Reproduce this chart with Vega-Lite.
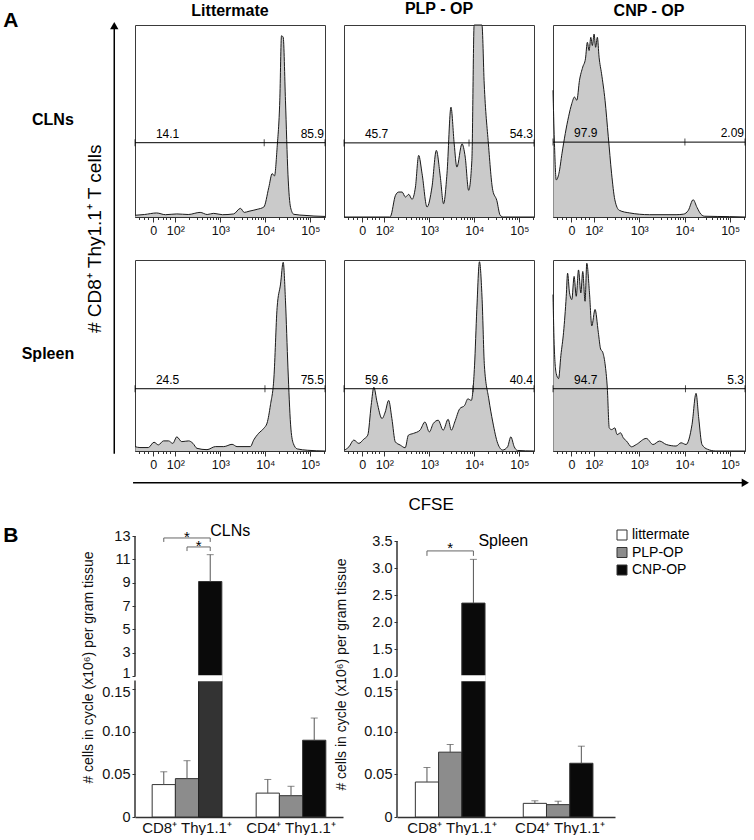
{
  "$schema": "https://vega.github.io/schema/vega-lite/v6.json",
  "background": "white",
  "padding": {"left": 0, "top": 0, "right": 0, "bottom": 0},
  "config": {
    "view": {"stroke": "#3a3a3a", "strokeWidth": 1},
    "font": "Liberation Sans",
    "axis": {"domainColor": "#333", "tickColor": "#333", "labelColor": "#111", "grid": false, "labelFont": "Liberation Sans", "titleFont": "Liberation Sans"},
    "text": {"font": "Liberation Sans", "color": "black"}
  },
  "datasets": {
    "hist": [
      {"tissue":"CLNs","mouse":"Littermate","cfse":0,"count":0.9},{"tissue":"CLNs","mouse":"Littermate","cfse":5,"count":1.3},{"tissue":"CLNs","mouse":"Littermate","cfse":11.4,"count":2.1},{"tissue":"CLNs","mouse":"Littermate","cfse":16,"count":1.2},{"tissue":"CLNs","mouse":"Littermate","cfse":22,"count":1.6},{"tissue":"CLNs","mouse":"Littermate","cfse":28,"count":1.3},{"tissue":"CLNs","mouse":"Littermate","cfse":34.3,"count":2.4},{"tissue":"CLNs","mouse":"Littermate","cfse":38,"count":1.3},{"tissue":"CLNs","mouse":"Littermate","cfse":41.4,"count":1.9},{"tissue":"CLNs","mouse":"Littermate","cfse":46,"count":1.2},{"tissue":"CLNs","mouse":"Littermate","cfse":51.9,"count":1.6},{"tissue":"CLNs","mouse":"Littermate","cfse":55.5,"count":4.5},{"tissue":"CLNs","mouse":"Littermate","cfse":57.5,"count":2.4},{"tissue":"CLNs","mouse":"Littermate","cfse":60,"count":3},{"tissue":"CLNs","mouse":"Littermate","cfse":64.3,"count":4},{"tissue":"CLNs","mouse":"Littermate","cfse":67.8,"count":5.2},{"tissue":"CLNs","mouse":"Littermate","cfse":70.4,"count":15.3},{"tissue":"CLNs","mouse":"Littermate","cfse":72.2,"count":22.6},{"tissue":"CLNs","mouse":"Littermate","cfse":73.4,"count":21.4},{"tissue":"CLNs","mouse":"Littermate","cfse":74.8,"count":36.2},{"tissue":"CLNs","mouse":"Littermate","cfse":76.2,"count":60.5},{"tissue":"CLNs","mouse":"Littermate","cfse":77.1,"count":94.4},{"tissue":"CLNs","mouse":"Littermate","cfse":78,"count":93.6},{"tissue":"CLNs","mouse":"Littermate","cfse":79.2,"count":60.5},{"tissue":"CLNs","mouse":"Littermate","cfse":80.5,"count":22.3},{"tissue":"CLNs","mouse":"Littermate","cfse":81.9,"count":4.9},{"tissue":"CLNs","mouse":"Littermate","cfse":83.6,"count":1.4},{"tissue":"CLNs","mouse":"Littermate","cfse":90,"count":0.8},{"tissue":"CLNs","mouse":"Littermate","cfse":94.2,"count":0.5},{"tissue":"CLNs","mouse":"Littermate","cfse":100,"count":0.3},
      {"tissue":"CLNs","mouse":"PLP - OP","cfse":0,"count":0},{"tissue":"CLNs","mouse":"PLP - OP","cfse":24,"count":0},{"tissue":"CLNs","mouse":"PLP - OP","cfse":24.5,"count":0.3},{"tissue":"CLNs","mouse":"PLP - OP","cfse":27.1,"count":11.3},{"tissue":"CLNs","mouse":"PLP - OP","cfse":28.8,"count":13},{"tissue":"CLNs","mouse":"PLP - OP","cfse":30.6,"count":13},{"tissue":"CLNs","mouse":"PLP - OP","cfse":32.3,"count":10.4},{"tissue":"CLNs","mouse":"PLP - OP","cfse":34.1,"count":11.8},{"tissue":"CLNs","mouse":"PLP - OP","cfse":35.8,"count":9.2},{"tissue":"CLNs","mouse":"PLP - OP","cfse":37.6,"count":15.6},{"tissue":"CLNs","mouse":"PLP - OP","cfse":39.3,"count":32.1},{"tissue":"CLNs","mouse":"PLP - OP","cfse":41.1,"count":22.5},{"tissue":"CLNs","mouse":"PLP - OP","cfse":43.7,"count":5.2},{"tissue":"CLNs","mouse":"PLP - OP","cfse":46.3,"count":15.6},{"tissue":"CLNs","mouse":"PLP - OP","cfse":48.6,"count":34.7},{"tissue":"CLNs","mouse":"PLP - OP","cfse":50.7,"count":20.8},{"tissue":"CLNs","mouse":"PLP - OP","cfse":52.4,"count":6.9},{"tissue":"CLNs","mouse":"PLP - OP","cfse":54.2,"count":22.5},{"tissue":"CLNs","mouse":"PLP - OP","cfse":56.3,"count":57.2},{"tissue":"CLNs","mouse":"PLP - OP","cfse":58,"count":38.1},{"tissue":"CLNs","mouse":"PLP - OP","cfse":59.4,"count":26},{"tissue":"CLNs","mouse":"PLP - OP","cfse":62.1,"count":38.1},{"tissue":"CLNs","mouse":"PLP - OP","cfse":63.8,"count":31.2},{"tissue":"CLNs","mouse":"PLP - OP","cfse":65.6,"count":13.9},{"tissue":"CLNs","mouse":"PLP - OP","cfse":67.3,"count":29.5},{"tissue":"CLNs","mouse":"PLP - OP","cfse":68.5,"count":100},{"tissue":"CLNs","mouse":"PLP - OP","cfse":72.6,"count":100},{"tissue":"CLNs","mouse":"PLP - OP","cfse":73.8,"count":69.3},{"tissue":"CLNs","mouse":"PLP - OP","cfse":76,"count":38.1},{"tissue":"CLNs","mouse":"PLP - OP","cfse":78.3,"count":13.9},{"tissue":"CLNs","mouse":"PLP - OP","cfse":80.4,"count":8.7},{"tissue":"CLNs","mouse":"PLP - OP","cfse":82.2,"count":0.9},{"tissue":"CLNs","mouse":"PLP - OP","cfse":83.9,"count":0},{"tissue":"CLNs","mouse":"PLP - OP","cfse":100,"count":0},
      {"tissue":"CLNs","mouse":"CNP - OP","cfse":0,"count":66},{"tissue":"CLNs","mouse":"CNP - OP","cfse":0.7,"count":40.1},{"tissue":"CLNs","mouse":"CNP - OP","cfse":1.7,"count":19.3},{"tissue":"CLNs","mouse":"CNP - OP","cfse":3.1,"count":22.8},{"tissue":"CLNs","mouse":"CNP - OP","cfse":4.7,"count":33.2},{"tissue":"CLNs","mouse":"CNP - OP","cfse":6.4,"count":43.5},{"tissue":"CLNs","mouse":"CNP - OP","cfse":8.1,"count":52.2},{"tissue":"CLNs","mouse":"CNP - OP","cfse":9.8,"count":59.1},{"tissue":"CLNs","mouse":"CNP - OP","cfse":11.2,"count":62.5},{"tissue":"CLNs","mouse":"CNP - OP","cfse":12.4,"count":60.8},{"tissue":"CLNs","mouse":"CNP - OP","cfse":13.8,"count":71.2},{"tissue":"CLNs","mouse":"CNP - OP","cfse":15.5,"count":78.1},{"tissue":"CLNs","mouse":"CNP - OP","cfse":16.9,"count":82.4},{"tissue":"CLNs","mouse":"CNP - OP","cfse":17.9,"count":91},{"tissue":"CLNs","mouse":"CNP - OP","cfse":18.8,"count":86.7},{"tissue":"CLNs","mouse":"CNP - OP","cfse":19.7,"count":93.6},{"tissue":"CLNs","mouse":"CNP - OP","cfse":20.5,"count":89.3},{"tissue":"CLNs","mouse":"CNP - OP","cfse":21.4,"count":95.3},{"tissue":"CLNs","mouse":"CNP - OP","cfse":22.2,"count":88.4},{"tissue":"CLNs","mouse":"CNP - OP","cfse":23.1,"count":93.6},{"tissue":"CLNs","mouse":"CNP - OP","cfse":24,"count":83.2},{"tissue":"CLNs","mouse":"CNP - OP","cfse":25.3,"count":74.6},{"tissue":"CLNs","mouse":"CNP - OP","cfse":27.1,"count":60.8},{"tissue":"CLNs","mouse":"CNP - OP","cfse":28.8,"count":41.8},{"tissue":"CLNs","mouse":"CNP - OP","cfse":30.5,"count":22.8},{"tissue":"CLNs","mouse":"CNP - OP","cfse":32.2,"count":9},{"tissue":"CLNs","mouse":"CNP - OP","cfse":34.5,"count":3.5},{"tissue":"CLNs","mouse":"CNP - OP","cfse":40,"count":2.1},{"tissue":"CLNs","mouse":"CNP - OP","cfse":50.3,"count":1.2},{"tissue":"CLNs","mouse":"CNP - OP","cfse":64.1,"count":1.2},{"tissue":"CLNs","mouse":"CNP - OP","cfse":68,"count":1.5},{"tissue":"CLNs","mouse":"CNP - OP","cfse":70.5,"count":3.5},{"tissue":"CLNs","mouse":"CNP - OP","cfse":73,"count":9},{"tissue":"CLNs","mouse":"CNP - OP","cfse":75,"count":5},{"tissue":"CLNs","mouse":"CNP - OP","cfse":77,"count":1.5},{"tissue":"CLNs","mouse":"CNP - OP","cfse":79,"count":0.4},{"tissue":"CLNs","mouse":"CNP - OP","cfse":92,"count":0.2},{"tissue":"CLNs","mouse":"CNP - OP","cfse":100,"count":0},
      {"tissue":"Spleen","mouse":"Littermate","cfse":0,"count":2.3},{"tissue":"Spleen","mouse":"Littermate","cfse":2.6,"count":1.8},{"tissue":"Spleen","mouse":"Littermate","cfse":7,"count":1.8},{"tissue":"Spleen","mouse":"Littermate","cfse":10,"count":4.6},{"tissue":"Spleen","mouse":"Littermate","cfse":12.3,"count":3.2},{"tissue":"Spleen","mouse":"Littermate","cfse":15,"count":5.3},{"tissue":"Spleen","mouse":"Littermate","cfse":17.6,"count":5.3},{"tissue":"Spleen","mouse":"Littermate","cfse":19.9,"count":4},{"tissue":"Spleen","mouse":"Littermate","cfse":22,"count":7.4},{"tissue":"Spleen","mouse":"Littermate","cfse":24.6,"count":4.9},{"tissue":"Spleen","mouse":"Littermate","cfse":28.2,"count":5.3},{"tissue":"Spleen","mouse":"Littermate","cfse":30.5,"count":4},{"tissue":"Spleen","mouse":"Littermate","cfse":32.6,"count":1.4},{"tissue":"Spleen","mouse":"Littermate","cfse":37.9,"count":0.7},{"tissue":"Spleen","mouse":"Littermate","cfse":42.3,"count":2.3},{"tissue":"Spleen","mouse":"Littermate","cfse":46.7,"count":2.3},{"tissue":"Spleen","mouse":"Littermate","cfse":51.1,"count":3.5},{"tissue":"Spleen","mouse":"Littermate","cfse":53.7,"count":2.3},{"tissue":"Spleen","mouse":"Littermate","cfse":60.7,"count":2.3},{"tissue":"Spleen","mouse":"Littermate","cfse":62.5,"count":5.8},{"tissue":"Spleen","mouse":"Littermate","cfse":65.1,"count":9.3},{"tissue":"Spleen","mouse":"Littermate","cfse":67.8,"count":11.9},{"tissue":"Spleen","mouse":"Littermate","cfse":69.5,"count":14.6},{"tissue":"Spleen","mouse":"Littermate","cfse":71.3,"count":24.2},{"tissue":"Spleen","mouse":"Littermate","cfse":73.1,"count":38.2},{"tissue":"Spleen","mouse":"Littermate","cfse":74.8,"count":75.1},{"tissue":"Spleen","mouse":"Littermate","cfse":76.6,"count":87.4},{"tissue":"Spleen","mouse":"Littermate","cfse":78,"count":98.8},{"tissue":"Spleen","mouse":"Littermate","cfse":79.2,"count":78.6},{"tissue":"Spleen","mouse":"Littermate","cfse":80.5,"count":43.5},{"tissue":"Spleen","mouse":"Littermate","cfse":81.9,"count":13.7},{"tissue":"Spleen","mouse":"Littermate","cfse":83.3,"count":4},{"tissue":"Spleen","mouse":"Littermate","cfse":85.4,"count":1.1},{"tissue":"Spleen","mouse":"Littermate","cfse":90.7,"count":0.4},{"tissue":"Spleen","mouse":"Littermate","cfse":100,"count":0},
      {"tissue":"Spleen","mouse":"PLP - OP","cfse":0,"count":0.3},{"tissue":"Spleen","mouse":"PLP - OP","cfse":2.6,"count":2.2},{"tissue":"Spleen","mouse":"PLP - OP","cfse":5.2,"count":5.7},{"tissue":"Spleen","mouse":"PLP - OP","cfse":7.8,"count":4},{"tissue":"Spleen","mouse":"PLP - OP","cfse":10.4,"count":6.2},{"tissue":"Spleen","mouse":"PLP - OP","cfse":12.5,"count":8.3},{"tissue":"Spleen","mouse":"PLP - OP","cfse":14.3,"count":23.9},{"tissue":"Spleen","mouse":"PLP - OP","cfse":15.7,"count":33.4},{"tissue":"Spleen","mouse":"PLP - OP","cfse":17.4,"count":25.6},{"tissue":"Spleen","mouse":"PLP - OP","cfse":20,"count":17},{"tissue":"Spleen","mouse":"PLP - OP","cfse":21.7,"count":20.4},{"tissue":"Spleen","mouse":"PLP - OP","cfse":23.5,"count":26.5},{"tissue":"Spleen","mouse":"PLP - OP","cfse":25.2,"count":17},{"tissue":"Spleen","mouse":"PLP - OP","cfse":27,"count":4.8},{"tissue":"Spleen","mouse":"PLP - OP","cfse":29.6,"count":3.1},{"tissue":"Spleen","mouse":"PLP - OP","cfse":32.2,"count":1.7},{"tissue":"Spleen","mouse":"PLP - OP","cfse":33.9,"count":8.3},{"tissue":"Spleen","mouse":"PLP - OP","cfse":36.5,"count":9.2},{"tissue":"Spleen","mouse":"PLP - OP","cfse":40,"count":10.9},{"tissue":"Spleen","mouse":"PLP - OP","cfse":42.6,"count":15.2},{"tissue":"Spleen","mouse":"PLP - OP","cfse":44.9,"count":10},{"tissue":"Spleen","mouse":"PLP - OP","cfse":47,"count":14.4},{"tissue":"Spleen","mouse":"PLP - OP","cfse":49.6,"count":16.1},{"tissue":"Spleen","mouse":"PLP - OP","cfse":52.2,"count":10.9},{"tissue":"Spleen","mouse":"PLP - OP","cfse":54.8,"count":16.6},{"tissue":"Spleen","mouse":"PLP - OP","cfse":56.5,"count":10.9},{"tissue":"Spleen","mouse":"PLP - OP","cfse":58.3,"count":15.2},{"tissue":"Spleen","mouse":"PLP - OP","cfse":60.9,"count":22.1},{"tissue":"Spleen","mouse":"PLP - OP","cfse":63.5,"count":23.9},{"tissue":"Spleen","mouse":"PLP - OP","cfse":65.2,"count":27.3},{"tissue":"Spleen","mouse":"PLP - OP","cfse":67,"count":26.5},{"tissue":"Spleen","mouse":"PLP - OP","cfse":68.7,"count":44.6},{"tissue":"Spleen","mouse":"PLP - OP","cfse":69.9,"count":74},{"tissue":"Spleen","mouse":"PLP - OP","cfse":71.3,"count":99.1},{"tissue":"Spleen","mouse":"PLP - OP","cfse":72.7,"count":79.2},{"tissue":"Spleen","mouse":"PLP - OP","cfse":73.9,"count":44.6},{"tissue":"Spleen","mouse":"PLP - OP","cfse":76.2,"count":27.3},{"tissue":"Spleen","mouse":"PLP - OP","cfse":78.3,"count":15.2},{"tissue":"Spleen","mouse":"PLP - OP","cfse":80.9,"count":4},{"tissue":"Spleen","mouse":"PLP - OP","cfse":83.5,"count":0.5},{"tissue":"Spleen","mouse":"PLP - OP","cfse":86.1,"count":2.2},{"tissue":"Spleen","mouse":"PLP - OP","cfse":87.8,"count":7.4},{"tissue":"Spleen","mouse":"PLP - OP","cfse":89.6,"count":2.2},{"tissue":"Spleen","mouse":"PLP - OP","cfse":91.3,"count":0.3},{"tissue":"Spleen","mouse":"PLP - OP","cfse":100,"count":0},
      {"tissue":"Spleen","mouse":"CNP - OP","cfse":0,"count":81.9},{"tissue":"Spleen","mouse":"CNP - OP","cfse":0.7,"count":53.4},{"tissue":"Spleen","mouse":"CNP - OP","cfse":1.7,"count":40.5},{"tissue":"Spleen","mouse":"CNP - OP","cfse":2.9,"count":37.9},{"tissue":"Spleen","mouse":"CNP - OP","cfse":4.1,"count":50},{"tissue":"Spleen","mouse":"CNP - OP","cfse":5.5,"count":62.1},{"tissue":"Spleen","mouse":"CNP - OP","cfse":6.9,"count":81},{"tissue":"Spleen","mouse":"CNP - OP","cfse":7.6,"count":93.1},{"tissue":"Spleen","mouse":"CNP - OP","cfse":8.6,"count":82.8},{"tissue":"Spleen","mouse":"CNP - OP","cfse":9.8,"count":79.3},{"tissue":"Spleen","mouse":"CNP - OP","cfse":11,"count":91.4},{"tissue":"Spleen","mouse":"CNP - OP","cfse":12.1,"count":81},{"tissue":"Spleen","mouse":"CNP - OP","cfse":13.3,"count":94.8},{"tissue":"Spleen","mouse":"CNP - OP","cfse":14.5,"count":82.8},{"tissue":"Spleen","mouse":"CNP - OP","cfse":15.5,"count":94},{"tissue":"Spleen","mouse":"CNP - OP","cfse":16.7,"count":78.4},{"tissue":"Spleen","mouse":"CNP - OP","cfse":17.6,"count":98.3},{"tissue":"Spleen","mouse":"CNP - OP","cfse":19,"count":82.8},{"tissue":"Spleen","mouse":"CNP - OP","cfse":20.2,"count":65.5},{"tissue":"Spleen","mouse":"CNP - OP","cfse":21.9,"count":74.1},{"tissue":"Spleen","mouse":"CNP - OP","cfse":23.6,"count":62.1},{"tissue":"Spleen","mouse":"CNP - OP","cfse":24.8,"count":53.4},{"tissue":"Spleen","mouse":"CNP - OP","cfse":25.9,"count":51.7},{"tissue":"Spleen","mouse":"CNP - OP","cfse":27.1,"count":45.7},{"tissue":"Spleen","mouse":"CNP - OP","cfse":28.3,"count":32.8},{"tissue":"Spleen","mouse":"CNP - OP","cfse":29.3,"count":12.1},{"tissue":"Spleen","mouse":"CNP - OP","cfse":30.5,"count":11.2},{"tissue":"Spleen","mouse":"CNP - OP","cfse":32.2,"count":12.1},{"tissue":"Spleen","mouse":"CNP - OP","cfse":33.4,"count":8.6},{"tissue":"Spleen","mouse":"CNP - OP","cfse":35.2,"count":9.5},{"tissue":"Spleen","mouse":"CNP - OP","cfse":36.6,"count":6.9},{"tissue":"Spleen","mouse":"CNP - OP","cfse":38.3,"count":5.2},{"tissue":"Spleen","mouse":"CNP - OP","cfse":40.9,"count":2.2},{"tissue":"Spleen","mouse":"CNP - OP","cfse":43.4,"count":3.4},{"tissue":"Spleen","mouse":"CNP - OP","cfse":48.6,"count":6.6},{"tissue":"Spleen","mouse":"CNP - OP","cfse":52.1,"count":3.4},{"tissue":"Spleen","mouse":"CNP - OP","cfse":55.5,"count":5.2},{"tissue":"Spleen","mouse":"CNP - OP","cfse":59,"count":3.4},{"tissue":"Spleen","mouse":"CNP - OP","cfse":64.1,"count":2.6},{"tissue":"Spleen","mouse":"CNP - OP","cfse":66.7,"count":4.3},{"tissue":"Spleen","mouse":"CNP - OP","cfse":69.3,"count":3.4},{"tissue":"Spleen","mouse":"CNP - OP","cfse":72.4,"count":13.8},{"tissue":"Spleen","mouse":"CNP - OP","cfse":74.5,"count":30.2},{"tissue":"Spleen","mouse":"CNP - OP","cfse":75.9,"count":17.2},{"tissue":"Spleen","mouse":"CNP - OP","cfse":77.6,"count":3.4},{"tissue":"Spleen","mouse":"CNP - OP","cfse":80.5,"count":0.9},{"tissue":"Spleen","mouse":"CNP - OP","cfse":84.8,"count":0},{"tissue":"Spleen","mouse":"CNP - OP","cfse":100,"count":0}
    ],
    "gates": [
      {"tissue":"CLNs","mouse":"Littermate","gate":38.7,"split":68,"left":14.1,"right":85.9},
      {"tissue":"CLNs","mouse":"PLP - OP","gate":38.6,"split":65.8,"left":45.7,"right":54.3},
      {"tissue":"CLNs","mouse":"CNP - OP","gate":39,"split":68.7,"left":97.9,"right":2.09},
      {"tissue":"Spleen","mouse":"Littermate","gate":32.6,"split":68.4,"left":24.5,"right":75.5},
      {"tissue":"Spleen","mouse":"PLP - OP","gate":32.6,"split":67.9,"left":59.6,"right":40.4},
      {"tissue":"Spleen","mouse":"CNP - OP","gate":32.6,"split":69,"left":94.7,"right":5.3}
    ],
    "bars": [
      {"tissue":"CLNs","cell":"CD8⁺ Thy1.1⁺","genotype":"littermate","mean":0.038,"upper":0.053},
      {"tissue":"CLNs","cell":"CD8⁺ Thy1.1⁺","genotype":"PLP-OP","mean":0.045,"upper":0.066},
      {"tissue":"CLNs","cell":"CD8⁺ Thy1.1⁺","genotype":"CNP-OP","mean":9.1,"upper":11.4},
      {"tissue":"CLNs","cell":"CD4⁺ Thy1.1⁺","genotype":"littermate","mean":0.028,"upper":0.044},
      {"tissue":"CLNs","cell":"CD4⁺ Thy1.1⁺","genotype":"PLP-OP","mean":0.025,"upper":0.036},
      {"tissue":"CLNs","cell":"CD4⁺ Thy1.1⁺","genotype":"CNP-OP","mean":0.09,"upper":0.116},
      {"tissue":"Spleen","cell":"CD8⁺ Thy1.1⁺","genotype":"littermate","mean":0.041,"upper":0.058},
      {"tissue":"Spleen","cell":"CD8⁺ Thy1.1⁺","genotype":"PLP-OP","mean":0.076,"upper":0.085},
      {"tissue":"Spleen","cell":"CD8⁺ Thy1.1⁺","genotype":"CNP-OP","mean":2.35,"upper":3.16},
      {"tissue":"Spleen","cell":"CD4⁺ Thy1.1⁺","genotype":"littermate","mean":0.016,"upper":0.019},
      {"tissue":"Spleen","cell":"CD4⁺ Thy1.1⁺","genotype":"PLP-OP","mean":0.0145,"upper":0.0185},
      {"tissue":"Spleen","cell":"CD4⁺ Thy1.1⁺","genotype":"CNP-OP","mean":0.063,"upper":0.083}
    ],
    "brackets": [
      {"tissue":"CLNs","bracket":1,"o":1,"cell":"CD8⁺ Thy1.1⁺","genotype":"littermate","y":12.49},
      {"tissue":"CLNs","bracket":1,"o":2,"cell":"CD8⁺ Thy1.1⁺","genotype":"littermate","y":12.83},
      {"tissue":"CLNs","bracket":1,"o":3,"cell":"CD8⁺ Thy1.1⁺","genotype":"CNP-OP","y":12.83},
      {"tissue":"CLNs","bracket":1,"o":4,"cell":"CD8⁺ Thy1.1⁺","genotype":"CNP-OP","y":12.49},
      {"tissue":"CLNs","bracket":2,"o":1,"cell":"CD8⁺ Thy1.1⁺","genotype":"PLP-OP","y":11.71},
      {"tissue":"CLNs","bracket":2,"o":2,"cell":"CD8⁺ Thy1.1⁺","genotype":"PLP-OP","y":12.06},
      {"tissue":"CLNs","bracket":2,"o":3,"cell":"CD8⁺ Thy1.1⁺","genotype":"CNP-OP","y":12.06},
      {"tissue":"CLNs","bracket":2,"o":4,"cell":"CD8⁺ Thy1.1⁺","genotype":"CNP-OP","y":11.71},
      {"tissue":"Spleen","bracket":3,"o":1,"cell":"CD8⁺ Thy1.1⁺","genotype":"littermate","y":3.224},
      {"tissue":"Spleen","bracket":3,"o":2,"cell":"CD8⁺ Thy1.1⁺","genotype":"littermate","y":3.316},
      {"tissue":"Spleen","bracket":3,"o":3,"cell":"CD8⁺ Thy1.1⁺","genotype":"CNP-OP","y":3.316},
      {"tissue":"Spleen","bracket":3,"o":4,"cell":"CD8⁺ Thy1.1⁺","genotype":"CNP-OP","y":3.224}
    ],
    "stars": [
      {"tissue":"CLNs","bracket":1,"cell":"CD8⁺ Thy1.1⁺","genotype":"PLP-OP","y":12.49,"label":"*"},
      {"tissue":"CLNs","bracket":2,"cell":"CD8⁺ Thy1.1⁺","genotype":"PLP-OP","y":11.74,"label":"*"},
      {"tissue":"Spleen","bracket":3,"cell":"CD8⁺ Thy1.1⁺","genotype":"PLP-OP","y":3.28,"label":"*"}
    ]
  },
  "columns": 4,
  "align": "none",
  "bounds": "flush",
  "spacing": {"row": 43, "column": 19},
  "resolve": {"scale": {"color": "independent"}, "legend": {"color": "independent"}},
  "concat": [
    {
      "width": 116, "height": 192, "view": {"stroke": null},
      "data": {"values": [{"panel": "A", "tissue": "CLNs"}]},
      "layer": [
        {"mark": {"type": "text", "align": "left", "baseline": "alphabetic", "fontSize": 21, "fontWeight": "bold"},
         "encoding": {"x": {"datum": 0.028, "type": "quantitative", "scale": {"domain": [0, 1], "nice": false, "zero": false}, "axis": null},
                      "y": {"datum": 0.991, "type": "quantitative", "scale": {"domain": [0, 1], "nice": false, "zero": false}, "axis": null},
                      "text": {"field": "panel", "type": "nominal"}}},
        {"mark": {"type": "text", "align": "left", "baseline": "alphabetic", "fontSize": 16, "fontWeight": "bold"},
         "encoding": {"x": {"datum": 0.276, "type": "quantitative", "axis": null}, "y": {"datum": 0.481, "type": "quantitative", "axis": null}, "text": {"field": "tissue", "type": "nominal"}}}
      ]
    },
    {
      "width": 190, "height": 192,
      "title": {"text": "Littermate", "fontSize": 16, "fontWeight": "bold", "font": "Liberation Sans", "offset": 6, "color": "black"},
      "resolve": {"axis": {"x": "independent"}},
      "layer": [
        {"data": {"name": "hist"}, "transform": [{"filter": "datum.tissue == 'CLNs' && datum.mouse == 'Littermate'"}],
         "mark": {"type": "area", "interpolate": "monotone", "fill": "#b3b3b3", "line": {"stroke": "#1a1a1a", "strokeWidth": 1}},
         "encoding": {
           "x": {"field": "cfse", "type": "quantitative", "scale": {"domain": [0, 100], "nice": false, "zero": false}, "axis": {"orient": "bottom", "title": null, "values": [9.6, 21.2, 44.9, 68.6, 92.3], "labelExpr": "datum.value == 9.6 ? '0' : datum.value == 21.2 ? '10²' : datum.value == 44.9 ? '10³' : datum.value == 68.6 ? '10⁴' : '10⁵'", "labelFontSize": 12.5, "labelPadding": 2, "labelFlush": false, "tickSize": 5}},
           "y": {"field": "count", "type": "quantitative", "scale": {"domain": [0, 100], "nice": false, "zero": false}, "axis": {"title": null, "labels": false, "values": [0, 6, 12, 18, 24, 30, 36, 42, 48, 54, 60, 66, 72, 78, 84, 90, 96], "tickSize": {"condition": {"test": "datum.value % 30 == 0", "value": 5}, "value": 2.5}}}
         }},
        {"data": {"name": "gates"}, "transform": [{"filter": "datum.tissue == 'CLNs' && datum.mouse == 'Littermate'"}], "mark": {"type": "rule", "color": "black", "strokeWidth": 1}, "encoding": {"x": {"datum": 0, "type": "quantitative", "axis": {"orient": "bottom", "title": null, "labels": false, "domain": false, "tickSize": 2.5, "values": [2, 4.5, 7, 12.2, 14.5, 16.5, 18.5, 28.3, 32.5, 35.5, 37.8, 39.6, 41.2, 42.6, 43.8, 52, 56.2, 59.2, 61.5, 63.3, 64.9, 66.3, 67.5, 75.7, 79.9, 82.9, 85.2, 87, 88.6, 90, 91.2, 99.4]}}, "x2": {"datum": 100}, "y": {"field": "gate", "type": "quantitative", "axis": null}}},
        {"data": {"name": "gates"}, "transform": [{"filter": "datum.tissue == 'CLNs' && datum.mouse == 'Littermate'"}], "mark": {"type": "tick", "orient": "vertical", "size": 7, "thickness": 1, "color": "black"}, "encoding": {"x": {"datum": 0, "type": "quantitative", "axis": null}, "y": {"field": "gate", "type": "quantitative", "axis": null}}},
        {"data": {"name": "gates"}, "transform": [{"filter": "datum.tissue == 'CLNs' && datum.mouse == 'Littermate'"}], "mark": {"type": "tick", "orient": "vertical", "size": 7, "thickness": 1, "color": "black"}, "encoding": {"x": {"field": "split", "type": "quantitative", "axis": null}, "y": {"field": "gate", "type": "quantitative", "axis": null}}},
        {"data": {"name": "gates"}, "transform": [{"filter": "datum.tissue == 'CLNs' && datum.mouse == 'Littermate'"}], "mark": {"type": "tick", "orient": "vertical", "size": 7, "thickness": 1, "color": "black"}, "encoding": {"x": {"datum": 100, "type": "quantitative", "axis": null}, "y": {"field": "gate", "type": "quantitative", "axis": null}}},
        {"data": {"name": "gates"}, "transform": [{"filter": "datum.tissue == 'CLNs' && datum.mouse == 'Littermate'"}], "mark": {"type": "text", "align": "left", "baseline": "alphabetic", "dy": -5, "fontSize": 12}, "encoding": {"x": {"datum": 11, "type": "quantitative", "axis": null}, "y": {"field": "gate", "type": "quantitative", "axis": null}, "text": {"field": "left", "type": "nominal"}}},
        {"data": {"name": "gates"}, "transform": [{"filter": "datum.tissue == 'CLNs' && datum.mouse == 'Littermate'"}], "mark": {"type": "text", "align": "right", "baseline": "alphabetic", "dy": -5, "dx": -1, "fontSize": 12}, "encoding": {"x": {"datum": 100, "type": "quantitative", "axis": null}, "y": {"field": "gate", "type": "quantitative", "axis": null}, "text": {"field": "right", "type": "nominal"}}}
      ]
    },
    {
      "width": 190, "height": 192,
      "title": {"text": "PLP - OP", "fontSize": 16, "fontWeight": "bold", "font": "Liberation Sans", "offset": 6, "color": "black"},
      "resolve": {"axis": {"x": "independent"}},
      "layer": [
        {"data": {"name": "hist"}, "transform": [{"filter": "datum.tissue == 'CLNs' && datum.mouse == 'PLP - OP'"}],
         "mark": {"type": "area", "interpolate": "monotone", "fill": "#b3b3b3", "line": {"stroke": "#1a1a1a", "strokeWidth": 1}},
         "encoding": {
           "x": {"field": "cfse", "type": "quantitative", "scale": {"domain": [0, 100], "nice": false, "zero": false}, "axis": {"orient": "bottom", "title": null, "values": [9.6, 21.2, 44.9, 68.6, 92.3], "labelExpr": "datum.value == 9.6 ? '0' : datum.value == 21.2 ? '10²' : datum.value == 44.9 ? '10³' : datum.value == 68.6 ? '10⁴' : '10⁵'", "labelFontSize": 12.5, "labelPadding": 2, "labelFlush": false, "tickSize": 5}},
           "y": {"field": "count", "type": "quantitative", "scale": {"domain": [0, 100], "nice": false, "zero": false}, "axis": {"title": null, "labels": false, "values": [0, 6, 12, 18, 24, 30, 36, 42, 48, 54, 60, 66, 72, 78, 84, 90, 96], "tickSize": {"condition": {"test": "datum.value % 30 == 0", "value": 5}, "value": 2.5}}}
         }},
        {"data": {"name": "gates"}, "transform": [{"filter": "datum.tissue == 'CLNs' && datum.mouse == 'PLP - OP'"}], "mark": {"type": "rule", "color": "black", "strokeWidth": 1}, "encoding": {"x": {"datum": 0, "type": "quantitative", "axis": {"orient": "bottom", "title": null, "labels": false, "domain": false, "tickSize": 2.5, "values": [2, 4.5, 7, 12.2, 14.5, 16.5, 18.5, 28.3, 32.5, 35.5, 37.8, 39.6, 41.2, 42.6, 43.8, 52, 56.2, 59.2, 61.5, 63.3, 64.9, 66.3, 67.5, 75.7, 79.9, 82.9, 85.2, 87, 88.6, 90, 91.2, 99.4]}}, "x2": {"datum": 100}, "y": {"field": "gate", "type": "quantitative", "axis": null}}},
        {"data": {"name": "gates"}, "transform": [{"filter": "datum.tissue == 'CLNs' && datum.mouse == 'PLP - OP'"}], "mark": {"type": "tick", "orient": "vertical", "size": 7, "thickness": 1, "color": "black"}, "encoding": {"x": {"datum": 0, "type": "quantitative", "axis": null}, "y": {"field": "gate", "type": "quantitative", "axis": null}}},
        {"data": {"name": "gates"}, "transform": [{"filter": "datum.tissue == 'CLNs' && datum.mouse == 'PLP - OP'"}], "mark": {"type": "tick", "orient": "vertical", "size": 7, "thickness": 1, "color": "black"}, "encoding": {"x": {"field": "split", "type": "quantitative", "axis": null}, "y": {"field": "gate", "type": "quantitative", "axis": null}}},
        {"data": {"name": "gates"}, "transform": [{"filter": "datum.tissue == 'CLNs' && datum.mouse == 'PLP - OP'"}], "mark": {"type": "tick", "orient": "vertical", "size": 7, "thickness": 1, "color": "black"}, "encoding": {"x": {"datum": 100, "type": "quantitative", "axis": null}, "y": {"field": "gate", "type": "quantitative", "axis": null}}},
        {"data": {"name": "gates"}, "transform": [{"filter": "datum.tissue == 'CLNs' && datum.mouse == 'PLP - OP'"}], "mark": {"type": "text", "align": "left", "baseline": "alphabetic", "dy": -5, "fontSize": 12}, "encoding": {"x": {"datum": 11, "type": "quantitative", "axis": null}, "y": {"field": "gate", "type": "quantitative", "axis": null}, "text": {"field": "left", "type": "nominal"}}},
        {"data": {"name": "gates"}, "transform": [{"filter": "datum.tissue == 'CLNs' && datum.mouse == 'PLP - OP'"}], "mark": {"type": "text", "align": "right", "baseline": "alphabetic", "dy": -5, "dx": -1, "fontSize": 12}, "encoding": {"x": {"datum": 100, "type": "quantitative", "axis": null}, "y": {"field": "gate", "type": "quantitative", "axis": null}, "text": {"field": "right", "type": "nominal"}}}
      ]
    },
    {
      "width": 192, "height": 192,
      "title": {"text": "CNP - OP", "fontSize": 16, "fontWeight": "bold", "font": "Liberation Sans", "offset": 6, "color": "black"},
      "resolve": {"axis": {"x": "independent"}},
      "layer": [
        {"data": {"name": "hist"}, "transform": [{"filter": "datum.tissue == 'CLNs' && datum.mouse == 'CNP - OP'"}],
         "mark": {"type": "area", "interpolate": "monotone", "fill": "#b3b3b3", "line": {"stroke": "#1a1a1a", "strokeWidth": 1}},
         "encoding": {
           "x": {"field": "cfse", "type": "quantitative", "scale": {"domain": [0, 100], "nice": false, "zero": false}, "axis": {"orient": "bottom", "title": null, "values": [9.6, 21.2, 44.9, 68.6, 92.3], "labelExpr": "datum.value == 9.6 ? '0' : datum.value == 21.2 ? '10²' : datum.value == 44.9 ? '10³' : datum.value == 68.6 ? '10⁴' : '10⁵'", "labelFontSize": 12.5, "labelPadding": 2, "labelFlush": false, "tickSize": 5}},
           "y": {"field": "count", "type": "quantitative", "scale": {"domain": [0, 100], "nice": false, "zero": false}, "axis": {"title": null, "labels": false, "values": [0, 6, 12, 18, 24, 30, 36, 42, 48, 54, 60, 66, 72, 78, 84, 90, 96], "tickSize": {"condition": {"test": "datum.value % 30 == 0", "value": 5}, "value": 2.5}}}
         }},
        {"data": {"name": "gates"}, "transform": [{"filter": "datum.tissue == 'CLNs' && datum.mouse == 'CNP - OP'"}], "mark": {"type": "rule", "color": "black", "strokeWidth": 1}, "encoding": {"x": {"datum": 0, "type": "quantitative", "axis": {"orient": "bottom", "title": null, "labels": false, "domain": false, "tickSize": 2.5, "values": [2, 4.5, 7, 12.2, 14.5, 16.5, 18.5, 28.3, 32.5, 35.5, 37.8, 39.6, 41.2, 42.6, 43.8, 52, 56.2, 59.2, 61.5, 63.3, 64.9, 66.3, 67.5, 75.7, 79.9, 82.9, 85.2, 87, 88.6, 90, 91.2, 99.4]}}, "x2": {"datum": 100}, "y": {"field": "gate", "type": "quantitative", "axis": null}}},
        {"data": {"name": "gates"}, "transform": [{"filter": "datum.tissue == 'CLNs' && datum.mouse == 'CNP - OP'"}], "mark": {"type": "tick", "orient": "vertical", "size": 7, "thickness": 1, "color": "black"}, "encoding": {"x": {"datum": 0, "type": "quantitative", "axis": null}, "y": {"field": "gate", "type": "quantitative", "axis": null}}},
        {"data": {"name": "gates"}, "transform": [{"filter": "datum.tissue == 'CLNs' && datum.mouse == 'CNP - OP'"}], "mark": {"type": "tick", "orient": "vertical", "size": 7, "thickness": 1, "color": "black"}, "encoding": {"x": {"field": "split", "type": "quantitative", "axis": null}, "y": {"field": "gate", "type": "quantitative", "axis": null}}},
        {"data": {"name": "gates"}, "transform": [{"filter": "datum.tissue == 'CLNs' && datum.mouse == 'CNP - OP'"}], "mark": {"type": "tick", "orient": "vertical", "size": 7, "thickness": 1, "color": "black"}, "encoding": {"x": {"datum": 100, "type": "quantitative", "axis": null}, "y": {"field": "gate", "type": "quantitative", "axis": null}}},
        {"data": {"name": "gates"}, "transform": [{"filter": "datum.tissue == 'CLNs' && datum.mouse == 'CNP - OP'"}], "mark": {"type": "text", "align": "left", "baseline": "alphabetic", "dy": -5, "fontSize": 12}, "encoding": {"x": {"datum": 11, "type": "quantitative", "axis": null}, "y": {"field": "gate", "type": "quantitative", "axis": null}, "text": {"field": "left", "type": "nominal"}}},
        {"data": {"name": "gates"}, "transform": [{"filter": "datum.tissue == 'CLNs' && datum.mouse == 'CNP - OP'"}], "mark": {"type": "text", "align": "right", "baseline": "alphabetic", "dy": -5, "dx": -1, "fontSize": 12}, "encoding": {"x": {"datum": 100, "type": "quantitative", "axis": null}, "y": {"field": "gate", "type": "quantitative", "axis": null}, "text": {"field": "right", "type": "nominal"}}}
      ]
    },
    {
      "width": 116, "height": 191, "view": {"stroke": null},
      "data": {"values": [{"tissue": "Spleen", "axisTitle": "# CD8⁺ Thy1.1⁺ T cells"}]},
      "layer": [
        {"mark": {"type": "text", "align": "left", "baseline": "alphabetic", "fontSize": 16, "fontWeight": "bold"},
         "encoding": {"x": {"datum": 0.187, "type": "quantitative", "scale": {"domain": [0, 1], "nice": false, "zero": false}, "axis": null},
                      "y": {"datum": 0.48, "type": "quantitative", "scale": {"domain": [0, 1], "nice": false, "zero": false}, "axis": null},
                      "text": {"field": "tissue", "type": "nominal"}}},
        {"mark": {"type": "rule", "color": "black", "strokeWidth": 1.5},
         "encoding": {"x": {"datum": 0.985, "type": "quantitative", "axis": null}, "y": {"datum": -0.015, "type": "quantitative", "axis": null}, "y2": {"datum": 2.21}}},
        {"mark": {"type": "point", "shape": "triangle-up", "filled": true, "size": 70, "color": "black", "opacity": 1},
         "encoding": {"x": {"datum": 0.985, "type": "quantitative", "axis": null}, "y": {"datum": 2.227, "type": "quantitative", "axis": null}}},
        {"mark": {"type": "text", "align": "center", "baseline": "middle", "angle": 270, "fontSize": 19},
         "encoding": {"x": {"datum": 0.819, "type": "quantitative", "axis": null}, "y": {"datum": 1.111, "type": "quantitative", "axis": null}, "text": {"field": "axisTitle", "type": "nominal"}}}
      ]
    },
    {
      "width": 190, "height": 191,
      "resolve": {"axis": {"x": "independent"}},
      "layer": [
        {"data": {"name": "hist"}, "transform": [{"filter": "datum.tissue == 'Spleen' && datum.mouse == 'Littermate'"}],
         "mark": {"type": "area", "interpolate": "monotone", "fill": "#b3b3b3", "line": {"stroke": "#1a1a1a", "strokeWidth": 1}},
         "encoding": {
           "x": {"field": "cfse", "type": "quantitative", "scale": {"domain": [0, 100], "nice": false, "zero": false}, "axis": {"orient": "bottom", "title": null, "values": [9.6, 21.2, 44.9, 68.6, 92.3], "labelExpr": "datum.value == 9.6 ? '0' : datum.value == 21.2 ? '10²' : datum.value == 44.9 ? '10³' : datum.value == 68.6 ? '10⁴' : '10⁵'", "labelFontSize": 12.5, "labelPadding": 2, "labelFlush": false, "tickSize": 5}},
           "y": {"field": "count", "type": "quantitative", "scale": {"domain": [0, 100], "nice": false, "zero": false}, "axis": {"title": null, "labels": false, "values": [0, 6, 12, 18, 24, 30, 36, 42, 48, 54, 60, 66, 72, 78, 84, 90, 96], "tickSize": {"condition": {"test": "datum.value % 30 == 0", "value": 5}, "value": 2.5}}}
         }},
        {"data": {"name": "gates"}, "transform": [{"filter": "datum.tissue == 'Spleen' && datum.mouse == 'Littermate'"}], "mark": {"type": "rule", "color": "black", "strokeWidth": 1}, "encoding": {"x": {"datum": 0, "type": "quantitative", "axis": {"orient": "bottom", "title": null, "labels": false, "domain": false, "tickSize": 2.5, "values": [2, 4.5, 7, 12.2, 14.5, 16.5, 18.5, 28.3, 32.5, 35.5, 37.8, 39.6, 41.2, 42.6, 43.8, 52, 56.2, 59.2, 61.5, 63.3, 64.9, 66.3, 67.5, 75.7, 79.9, 82.9, 85.2, 87, 88.6, 90, 91.2, 99.4]}}, "x2": {"datum": 100}, "y": {"field": "gate", "type": "quantitative", "axis": null}}},
        {"data": {"name": "gates"}, "transform": [{"filter": "datum.tissue == 'Spleen' && datum.mouse == 'Littermate'"}], "mark": {"type": "tick", "orient": "vertical", "size": 7, "thickness": 1, "color": "black"}, "encoding": {"x": {"datum": 0, "type": "quantitative", "axis": null}, "y": {"field": "gate", "type": "quantitative", "axis": null}}},
        {"data": {"name": "gates"}, "transform": [{"filter": "datum.tissue == 'Spleen' && datum.mouse == 'Littermate'"}], "mark": {"type": "tick", "orient": "vertical", "size": 7, "thickness": 1, "color": "black"}, "encoding": {"x": {"field": "split", "type": "quantitative", "axis": null}, "y": {"field": "gate", "type": "quantitative", "axis": null}}},
        {"data": {"name": "gates"}, "transform": [{"filter": "datum.tissue == 'Spleen' && datum.mouse == 'Littermate'"}], "mark": {"type": "tick", "orient": "vertical", "size": 7, "thickness": 1, "color": "black"}, "encoding": {"x": {"datum": 100, "type": "quantitative", "axis": null}, "y": {"field": "gate", "type": "quantitative", "axis": null}}},
        {"data": {"name": "gates"}, "transform": [{"filter": "datum.tissue == 'Spleen' && datum.mouse == 'Littermate'"}], "mark": {"type": "text", "align": "left", "baseline": "alphabetic", "dy": -5, "fontSize": 12}, "encoding": {"x": {"datum": 11, "type": "quantitative", "axis": null}, "y": {"field": "gate", "type": "quantitative", "axis": null}, "text": {"field": "left", "type": "nominal"}}},
        {"data": {"name": "gates"}, "transform": [{"filter": "datum.tissue == 'Spleen' && datum.mouse == 'Littermate'"}], "mark": {"type": "text", "align": "right", "baseline": "alphabetic", "dy": -5, "dx": -1, "fontSize": 12}, "encoding": {"x": {"datum": 100, "type": "quantitative", "axis": null}, "y": {"field": "gate", "type": "quantitative", "axis": null}, "text": {"field": "right", "type": "nominal"}}}
      ]
    },
    {
      "width": 190, "height": 191,
      "resolve": {"axis": {"x": "independent"}},
      "layer": [
        {"data": {"name": "hist"}, "transform": [{"filter": "datum.tissue == 'Spleen' && datum.mouse == 'PLP - OP'"}],
         "mark": {"type": "area", "interpolate": "monotone", "fill": "#b3b3b3", "line": {"stroke": "#1a1a1a", "strokeWidth": 1}},
         "encoding": {
           "x": {"field": "cfse", "type": "quantitative", "scale": {"domain": [0, 100], "nice": false, "zero": false}, "axis": {"orient": "bottom", "title": null, "values": [9.6, 21.2, 44.9, 68.6, 92.3], "labelExpr": "datum.value == 9.6 ? '0' : datum.value == 21.2 ? '10²' : datum.value == 44.9 ? '10³' : datum.value == 68.6 ? '10⁴' : '10⁵'", "labelFontSize": 12.5, "labelPadding": 2, "labelFlush": false, "tickSize": 5}},
           "y": {"field": "count", "type": "quantitative", "scale": {"domain": [0, 100], "nice": false, "zero": false}, "axis": {"title": null, "labels": false, "values": [0, 6, 12, 18, 24, 30, 36, 42, 48, 54, 60, 66, 72, 78, 84, 90, 96], "tickSize": {"condition": {"test": "datum.value % 30 == 0", "value": 5}, "value": 2.5}}}
         }},
        {"data": {"name": "gates"}, "transform": [{"filter": "datum.tissue == 'Spleen' && datum.mouse == 'PLP - OP'"}], "mark": {"type": "rule", "color": "black", "strokeWidth": 1}, "encoding": {"x": {"datum": 0, "type": "quantitative", "axis": {"orient": "bottom", "title": null, "labels": false, "domain": false, "tickSize": 2.5, "values": [2, 4.5, 7, 12.2, 14.5, 16.5, 18.5, 28.3, 32.5, 35.5, 37.8, 39.6, 41.2, 42.6, 43.8, 52, 56.2, 59.2, 61.5, 63.3, 64.9, 66.3, 67.5, 75.7, 79.9, 82.9, 85.2, 87, 88.6, 90, 91.2, 99.4]}}, "x2": {"datum": 100}, "y": {"field": "gate", "type": "quantitative", "axis": null}}},
        {"data": {"name": "gates"}, "transform": [{"filter": "datum.tissue == 'Spleen' && datum.mouse == 'PLP - OP'"}], "mark": {"type": "tick", "orient": "vertical", "size": 7, "thickness": 1, "color": "black"}, "encoding": {"x": {"datum": 0, "type": "quantitative", "axis": null}, "y": {"field": "gate", "type": "quantitative", "axis": null}}},
        {"data": {"name": "gates"}, "transform": [{"filter": "datum.tissue == 'Spleen' && datum.mouse == 'PLP - OP'"}], "mark": {"type": "tick", "orient": "vertical", "size": 7, "thickness": 1, "color": "black"}, "encoding": {"x": {"field": "split", "type": "quantitative", "axis": null}, "y": {"field": "gate", "type": "quantitative", "axis": null}}},
        {"data": {"name": "gates"}, "transform": [{"filter": "datum.tissue == 'Spleen' && datum.mouse == 'PLP - OP'"}], "mark": {"type": "tick", "orient": "vertical", "size": 7, "thickness": 1, "color": "black"}, "encoding": {"x": {"datum": 100, "type": "quantitative", "axis": null}, "y": {"field": "gate", "type": "quantitative", "axis": null}}},
        {"data": {"name": "gates"}, "transform": [{"filter": "datum.tissue == 'Spleen' && datum.mouse == 'PLP - OP'"}], "mark": {"type": "text", "align": "left", "baseline": "alphabetic", "dy": -5, "fontSize": 12}, "encoding": {"x": {"datum": 11, "type": "quantitative", "axis": null}, "y": {"field": "gate", "type": "quantitative", "axis": null}, "text": {"field": "left", "type": "nominal"}}},
        {"data": {"name": "gates"}, "transform": [{"filter": "datum.tissue == 'Spleen' && datum.mouse == 'PLP - OP'"}], "mark": {"type": "text", "align": "right", "baseline": "alphabetic", "dy": -5, "dx": -1, "fontSize": 12}, "encoding": {"x": {"datum": 100, "type": "quantitative", "axis": null}, "y": {"field": "gate", "type": "quantitative", "axis": null}, "text": {"field": "right", "type": "nominal"}}}
      ]
    },
    {
      "width": 192, "height": 191,
      "resolve": {"axis": {"x": "independent"}},
      "layer": [
        {"data": {"name": "hist"}, "transform": [{"filter": "datum.tissue == 'Spleen' && datum.mouse == 'CNP - OP'"}],
         "mark": {"type": "area", "interpolate": "monotone", "fill": "#b3b3b3", "line": {"stroke": "#1a1a1a", "strokeWidth": 1}},
         "encoding": {
           "x": {"field": "cfse", "type": "quantitative", "scale": {"domain": [0, 100], "nice": false, "zero": false}, "axis": {"orient": "bottom", "title": null, "values": [9.6, 21.2, 44.9, 68.6, 92.3], "labelExpr": "datum.value == 9.6 ? '0' : datum.value == 21.2 ? '10²' : datum.value == 44.9 ? '10³' : datum.value == 68.6 ? '10⁴' : '10⁵'", "labelFontSize": 12.5, "labelPadding": 2, "labelFlush": false, "tickSize": 5}},
           "y": {"field": "count", "type": "quantitative", "scale": {"domain": [0, 100], "nice": false, "zero": false}, "axis": {"title": null, "labels": false, "values": [0, 6, 12, 18, 24, 30, 36, 42, 48, 54, 60, 66, 72, 78, 84, 90, 96], "tickSize": {"condition": {"test": "datum.value % 30 == 0", "value": 5}, "value": 2.5}}}
         }},
        {"data": {"name": "gates"}, "transform": [{"filter": "datum.tissue == 'Spleen' && datum.mouse == 'CNP - OP'"}], "mark": {"type": "rule", "color": "black", "strokeWidth": 1}, "encoding": {"x": {"datum": 0, "type": "quantitative", "axis": {"orient": "bottom", "title": null, "labels": false, "domain": false, "tickSize": 2.5, "values": [2, 4.5, 7, 12.2, 14.5, 16.5, 18.5, 28.3, 32.5, 35.5, 37.8, 39.6, 41.2, 42.6, 43.8, 52, 56.2, 59.2, 61.5, 63.3, 64.9, 66.3, 67.5, 75.7, 79.9, 82.9, 85.2, 87, 88.6, 90, 91.2, 99.4]}}, "x2": {"datum": 100}, "y": {"field": "gate", "type": "quantitative", "axis": null}}},
        {"data": {"name": "gates"}, "transform": [{"filter": "datum.tissue == 'Spleen' && datum.mouse == 'CNP - OP'"}], "mark": {"type": "tick", "orient": "vertical", "size": 7, "thickness": 1, "color": "black"}, "encoding": {"x": {"datum": 0, "type": "quantitative", "axis": null}, "y": {"field": "gate", "type": "quantitative", "axis": null}}},
        {"data": {"name": "gates"}, "transform": [{"filter": "datum.tissue == 'Spleen' && datum.mouse == 'CNP - OP'"}], "mark": {"type": "tick", "orient": "vertical", "size": 7, "thickness": 1, "color": "black"}, "encoding": {"x": {"field": "split", "type": "quantitative", "axis": null}, "y": {"field": "gate", "type": "quantitative", "axis": null}}},
        {"data": {"name": "gates"}, "transform": [{"filter": "datum.tissue == 'Spleen' && datum.mouse == 'CNP - OP'"}], "mark": {"type": "tick", "orient": "vertical", "size": 7, "thickness": 1, "color": "black"}, "encoding": {"x": {"datum": 100, "type": "quantitative", "axis": null}, "y": {"field": "gate", "type": "quantitative", "axis": null}}},
        {"data": {"name": "gates"}, "transform": [{"filter": "datum.tissue == 'Spleen' && datum.mouse == 'CNP - OP'"}], "mark": {"type": "text", "align": "left", "baseline": "alphabetic", "dy": -5, "fontSize": 12}, "encoding": {"x": {"datum": 11, "type": "quantitative", "axis": null}, "y": {"field": "gate", "type": "quantitative", "axis": null}, "text": {"field": "left", "type": "nominal"}}},
        {"data": {"name": "gates"}, "transform": [{"filter": "datum.tissue == 'Spleen' && datum.mouse == 'CNP - OP'"}], "mark": {"type": "text", "align": "right", "baseline": "alphabetic", "dy": -5, "dx": -1, "fontSize": 12}, "encoding": {"x": {"datum": 100, "type": "quantitative", "axis": null}, "y": {"field": "gate", "type": "quantitative", "axis": null}, "text": {"field": "right", "type": "nominal"}}}
      ]
    },
    {
      "width": 116, "height": 323, "view": {"stroke": null},
      "data": {"values": [{"panel": "B", "axisTitle": "CFSE"}]},
      "layer": [
        {"mark": {"type": "text", "align": "left", "baseline": "alphabetic", "fontSize": 21, "fontWeight": "bold"},
         "encoding": {"x": {"datum": 0.028, "type": "quantitative", "scale": {"domain": [0, 1], "nice": false, "zero": false}, "axis": null},
                      "y": {"datum": 0.852, "type": "quantitative", "scale": {"domain": [0, 1], "nice": false, "zero": false}, "axis": null},
                      "text": {"field": "panel", "type": "nominal"}}},
        {"mark": {"type": "rule", "color": "black", "strokeWidth": 1.5},
         "encoding": {"x": {"datum": 1.147, "type": "quantitative", "axis": null}, "x2": {"datum": 6.4}, "y": {"datum": 1.035, "type": "quantitative", "axis": null}}},
        {"mark": {"type": "point", "shape": "triangle-right", "filled": true, "size": 70, "color": "black", "opacity": 1},
         "encoding": {"x": {"datum": 6.425, "type": "quantitative", "axis": null}, "y": {"datum": 1.035, "type": "quantitative", "axis": null}}},
        {"mark": {"type": "text", "align": "center", "baseline": "middle", "fontSize": 17},
         "encoding": {"x": {"datum": 3.716, "type": "quantitative", "axis": null}, "y": {"datum": 0.967, "type": "quantitative", "axis": null}, "text": {"field": "axisTitle", "type": "nominal"}}}
      ]
    },
    {
      "width": 190, "height": 323, "view": {"stroke": null},
      "resolve": {"axis": {"y": "independent"}},
      "layer": [
        {"data": {"name": "bars"}, "transform": [{"filter": "datum.tissue == 'CLNs'"}],
         "mark": {"type": "bar", "stroke": "#333", "strokeWidth": 1},
         "encoding": {
           "x": {"field": "cell", "type": "nominal", "sort": ["CD8⁺ Thy1.1⁺", "CD4⁺ Thy1.1⁺"], "scale": {"range": [0, 208], "paddingInner": 0.33, "paddingOuter": 0.165}, "axis": {"title": null, "ticks": false, "labelAngle": 0, "labelFontSize": 15, "labelPadding": 3, "domainColor": "#333", "domainWidth": 1.5, "labelColor": "#111"}},
           "xOffset": {"field": "genotype", "type": "nominal", "sort": ["littermate", "PLP-OP", "CNP-OP"], "scale": {"paddingInner": 0, "paddingOuter": 0}},
           "y": {"field": "mean", "type": "quantitative", "scale": {"domain": [0, 0.16, 1, 13], "range": [323, 186.5, 182, 42], "nice": false, "zero": false},
                 "axis": {"orient": "left", "title": "# cells in cycle (x10⁶) per gram tissue", "titleX": -47, "titleY": 173, "titleAngle": 270, "titleAlign": "center", "titleBaseline": "middle", "titleFontSize": 14, "titleFontWeight": "normal", "titleColor": "#111", "domain": false, "values": [0, 0.05, 0.1, 0.15], "labelExpr": "datum.value == 0 ? '0' : format(datum.value, '.2f')", "labelFontSize": 14.5, "tickSize": 3, "labelPadding": 2, "labelFlush": false, "labelOffset": {"condition": {"test": "datum.value == 0.15", "value": 3}, "value": 0}}},
           "color": {"field": "genotype", "type": "nominal", "scale": {"domain": ["littermate", "PLP-OP", "CNP-OP"], "range": ["#ffffff", "#8c8c8c", "#0a0a0a"]}, "legend": null}
         }},
        {"data": {"name": "bars"}, "transform": [{"filter": "datum.tissue == 'CLNs' && datum.mean > 1"}],
         "mark": {"type": "bar", "fill": "#333333", "stroke": "#222", "strokeWidth": 1},
         "encoding": {"x": {"field": "cell", "type": "nominal", "sort": ["CD8⁺ Thy1.1⁺", "CD4⁺ Thy1.1⁺"]}, "xOffset": {"field": "genotype", "type": "nominal", "sort": ["littermate", "PLP-OP", "CNP-OP"]}, "y": {"datum": 0.16, "type": "quantitative", "axis": null}, "y2": {"datum": 0}}},
        {"data": {"name": "bars"}, "transform": [{"filter": "datum.tissue == 'CLNs' && datum.mean > 1"}],
         "mark": {"type": "bar", "fill": "white", "stroke": "white", "strokeWidth": 1.5},
         "encoding": {"x": {"field": "cell", "type": "nominal", "sort": ["CD8⁺ Thy1.1⁺", "CD4⁺ Thy1.1⁺"]}, "xOffset": {"field": "genotype", "type": "nominal", "sort": ["littermate", "PLP-OP", "CNP-OP"]}, "y": {"datum": 1, "type": "quantitative", "axis": null}, "y2": {"datum": 0.16}}},
        {"data": {"name": "bars"}, "transform": [{"filter": "datum.tissue == 'CLNs'"}],
         "mark": {"type": "rule", "color": "#555", "strokeWidth": 1},
         "encoding": {"x": {"field": "cell", "type": "nominal", "sort": ["CD8⁺ Thy1.1⁺", "CD4⁺ Thy1.1⁺"]}, "xOffset": {"field": "genotype", "type": "nominal", "sort": ["littermate", "PLP-OP", "CNP-OP"]}, "y": {"field": "mean", "type": "quantitative", "axis": null}, "y2": {"field": "upper"}}},
        {"data": {"name": "bars"}, "transform": [{"filter": "datum.tissue == 'CLNs'"}],
         "mark": {"type": "tick", "orient": "horizontal", "size": 7, "thickness": 1, "color": "#555"},
         "encoding": {"x": {"field": "cell", "type": "nominal", "sort": ["CD8⁺ Thy1.1⁺", "CD4⁺ Thy1.1⁺"]}, "xOffset": {"field": "genotype", "type": "nominal", "sort": ["littermate", "PLP-OP", "CNP-OP"]}, "y": {"field": "upper", "type": "quantitative", "axis": null}}},
        {"data": {"values": [{"segment": "lower", "from": 0, "to": 0.16}, {"segment": "upper", "from": 1, "to": 13}]},
         "mark": {"type": "rule", "color": "#333", "strokeWidth": 1.5},
         "encoding": {"x": {"value": 0}, "y": {"field": "from", "type": "quantitative", "axis": {"orient": "left", "title": null, "domain": false, "values": [1, 3, 5, 7, 9, 11, 13], "labelExpr": "format(datum.value, 'd')", "labelFontSize": 14.5, "tickSize": 3, "labelPadding": 2, "labelFlush": false, "labelOffset": {"condition": {"test": "datum.value == 1", "value": -3}, "value": 0}}}, "y2": {"field": "to"}}},
        {"data": {"name": "brackets"}, "transform": [{"filter": "datum.tissue == 'CLNs'"}],
         "mark": {"type": "line", "color": "#666", "strokeWidth": 1},
         "encoding": {"x": {"field": "cell", "type": "nominal", "sort": ["CD8⁺ Thy1.1⁺", "CD4⁺ Thy1.1⁺"]}, "xOffset": {"field": "genotype", "type": "nominal", "sort": ["littermate", "PLP-OP", "CNP-OP"]}, "y": {"field": "y", "type": "quantitative", "axis": null}, "detail": {"field": "bracket", "type": "nominal"}, "order": {"field": "o", "type": "quantitative"}}},
        {"data": {"name": "stars"}, "transform": [{"filter": "datum.tissue == 'CLNs' && datum.bracket == 1"}],
         "mark": {"type": "text", "align": "center", "baseline": "alphabetic", "fontSize": 15},
         "encoding": {"x": {"field": "cell", "type": "nominal", "sort": ["CD8⁺ Thy1.1⁺", "CD4⁺ Thy1.1⁺"]}, "xOffset": {"field": "genotype", "type": "nominal", "sort": ["littermate", "PLP-OP", "CNP-OP"]}, "y": {"field": "y", "type": "quantitative", "axis": null}, "text": {"field": "label", "type": "nominal"}}},
        {"data": {"name": "stars"}, "transform": [{"filter": "datum.tissue == 'CLNs' && datum.bracket == 2"}],
         "mark": {"type": "text", "align": "center", "baseline": "alphabetic", "fontSize": 15, "dx": 11.6},
         "encoding": {"x": {"field": "cell", "type": "nominal", "sort": ["CD8⁺ Thy1.1⁺", "CD4⁺ Thy1.1⁺"]}, "xOffset": {"field": "genotype", "type": "nominal", "sort": ["littermate", "PLP-OP", "CNP-OP"]}, "y": {"field": "y", "type": "quantitative", "axis": null}, "text": {"field": "label", "type": "nominal"}}},
        {"data": {"name": "bars"}, "transform": [{"filter": "datum.tissue == 'CLNs' && datum.mean > 1"}],
         "mark": {"type": "text", "align": "left", "baseline": "middle", "fontSize": 16},
         "encoding": {"x": {"field": "cell", "type": "nominal", "sort": ["CD8⁺ Thy1.1⁺", "CD4⁺ Thy1.1⁺"]}, "xOffset": {"field": "genotype", "type": "nominal", "sort": ["littermate", "PLP-OP", "CNP-OP"]}, "y": {"datum": 13.45, "type": "quantitative", "axis": null}, "text": {"field": "tissue", "type": "nominal"}}}
      ]
    },
    {
      "width": 190, "height": 323, "view": {"stroke": null},
      "resolve": {"axis": {"y": "independent"}},
      "layer": [
        {"data": {"name": "bars"}, "transform": [{"filter": "datum.tissue == 'Spleen'"}],
         "mark": {"type": "bar", "stroke": "#333", "strokeWidth": 1},
         "encoding": {
           "x": {"field": "cell", "type": "nominal", "sort": ["CD8⁺ Thy1.1⁺", "CD4⁺ Thy1.1⁺"], "scale": {"range": [53, 271], "paddingInner": 0.32, "paddingOuter": 0.17}, "axis": {"title": null, "ticks": false, "labelAngle": 0, "labelFontSize": 15, "labelPadding": 3, "domainColor": "#333", "domainWidth": 1.5, "labelColor": "#111"}},
           "xOffset": {"field": "genotype", "type": "nominal", "sort": ["littermate", "PLP-OP", "CNP-OP"], "scale": {"paddingInner": 0, "paddingOuter": 0}},
           "y": {"field": "mean", "type": "quantitative", "scale": {"domain": [0, 0.16, 1, 3.5], "range": [323, 186.5, 182, 47], "nice": false, "zero": false},
                 "axis": {"orient": "left", "offset": -53, "title": "# cells in cycle (x10⁶) per gram tissue", "titleX": -56, "titleY": 180, "titleAngle": 270, "titleAlign": "center", "titleBaseline": "middle", "titleFontSize": 14, "titleFontWeight": "normal", "titleColor": "#111", "domain": false, "values": [0, 0.05, 0.1, 0.15], "labelExpr": "datum.value == 0 ? '0' : format(datum.value, '.2f')", "labelFontSize": 14.5, "tickSize": 3, "labelPadding": 2, "labelFlush": false, "labelOffset": {"condition": {"test": "datum.value == 0.15", "value": 3}, "value": 0}}},
           "color": {"field": "genotype", "type": "nominal", "scale": {"domain": ["littermate", "PLP-OP", "CNP-OP"], "range": ["#ffffff", "#8c8c8c", "#0a0a0a"]},
                     "legend": {"title": null, "orient": "none", "legendX": 271, "legendY": 34, "padding": 0, "symbolType": "square", "symbolSize": 100, "symbolStrokeColor": "#333", "symbolStrokeWidth": 1, "labelFont": "Liberation Sans", "labelFontSize": 14, "labelColor": "black", "labelOffset": 3, "rowPadding": 3.5}}
         }},
        {"data": {"name": "bars"}, "transform": [{"filter": "datum.tissue == 'Spleen' && datum.mean > 1"}],
         "mark": {"type": "bar", "fill": "white", "stroke": "white", "strokeWidth": 1.5},
         "encoding": {"x": {"field": "cell", "type": "nominal", "sort": ["CD8⁺ Thy1.1⁺", "CD4⁺ Thy1.1⁺"]}, "xOffset": {"field": "genotype", "type": "nominal", "sort": ["littermate", "PLP-OP", "CNP-OP"]}, "y": {"datum": 1, "type": "quantitative", "axis": null}, "y2": {"datum": 0.16}}},
        {"data": {"name": "bars"}, "transform": [{"filter": "datum.tissue == 'Spleen'"}],
         "mark": {"type": "rule", "color": "#555", "strokeWidth": 1},
         "encoding": {"x": {"field": "cell", "type": "nominal", "sort": ["CD8⁺ Thy1.1⁺", "CD4⁺ Thy1.1⁺"]}, "xOffset": {"field": "genotype", "type": "nominal", "sort": ["littermate", "PLP-OP", "CNP-OP"]}, "y": {"field": "mean", "type": "quantitative", "axis": null}, "y2": {"field": "upper"}}},
        {"data": {"name": "bars"}, "transform": [{"filter": "datum.tissue == 'Spleen'"}],
         "mark": {"type": "tick", "orient": "horizontal", "size": 7, "thickness": 1, "color": "#555"},
         "encoding": {"x": {"field": "cell", "type": "nominal", "sort": ["CD8⁺ Thy1.1⁺", "CD4⁺ Thy1.1⁺"]}, "xOffset": {"field": "genotype", "type": "nominal", "sort": ["littermate", "PLP-OP", "CNP-OP"]}, "y": {"field": "upper", "type": "quantitative", "axis": null}}},
        {"data": {"values": [{"segment": "lower", "from": 0, "to": 0.16}, {"segment": "upper", "from": 1, "to": 3.5}]},
         "mark": {"type": "rule", "color": "#333", "strokeWidth": 1.5},
         "encoding": {"x": {"value": 53}, "y": {"field": "from", "type": "quantitative", "axis": {"orient": "left", "offset": -53, "title": null, "domain": false, "values": [1, 1.5, 2, 2.5, 3, 3.5], "labelExpr": "format(datum.value, '.1f')", "labelFontSize": 14.5, "tickSize": 3, "labelPadding": 2, "labelFlush": false, "labelOffset": {"condition": {"test": "datum.value == 1", "value": -3}, "value": 0}}}, "y2": {"field": "to"}}},
        {"data": {"name": "brackets"}, "transform": [{"filter": "datum.tissue == 'Spleen'"}],
         "mark": {"type": "line", "color": "#666", "strokeWidth": 1},
         "encoding": {"x": {"field": "cell", "type": "nominal", "sort": ["CD8⁺ Thy1.1⁺", "CD4⁺ Thy1.1⁺"]}, "xOffset": {"field": "genotype", "type": "nominal", "sort": ["littermate", "PLP-OP", "CNP-OP"]}, "y": {"field": "y", "type": "quantitative", "axis": null}, "detail": {"field": "bracket", "type": "nominal"}, "order": {"field": "o", "type": "quantitative"}}},
        {"data": {"name": "stars"}, "transform": [{"filter": "datum.tissue == 'Spleen'"}],
         "mark": {"type": "text", "align": "center", "baseline": "alphabetic", "fontSize": 15},
         "encoding": {"x": {"field": "cell", "type": "nominal", "sort": ["CD8⁺ Thy1.1⁺", "CD4⁺ Thy1.1⁺"]}, "xOffset": {"field": "genotype", "type": "nominal", "sort": ["littermate", "PLP-OP", "CNP-OP"]}, "y": {"field": "y", "type": "quantitative", "axis": null}, "text": {"field": "label", "type": "nominal"}}},
        {"data": {"name": "bars"}, "transform": [{"filter": "datum.tissue == 'Spleen' && datum.mean > 1"}],
         "mark": {"type": "text", "align": "left", "baseline": "middle", "fontSize": 16, "dx": 5},
         "encoding": {"x": {"field": "cell", "type": "nominal", "sort": ["CD8⁺ Thy1.1⁺", "CD4⁺ Thy1.1⁺"]}, "xOffset": {"field": "genotype", "type": "nominal", "sort": ["littermate", "PLP-OP", "CNP-OP"]}, "y": {"datum": 3.5, "type": "quantitative", "axis": null}, "text": {"field": "tissue", "type": "nominal"}}}
      ]
    }
  ]
}
